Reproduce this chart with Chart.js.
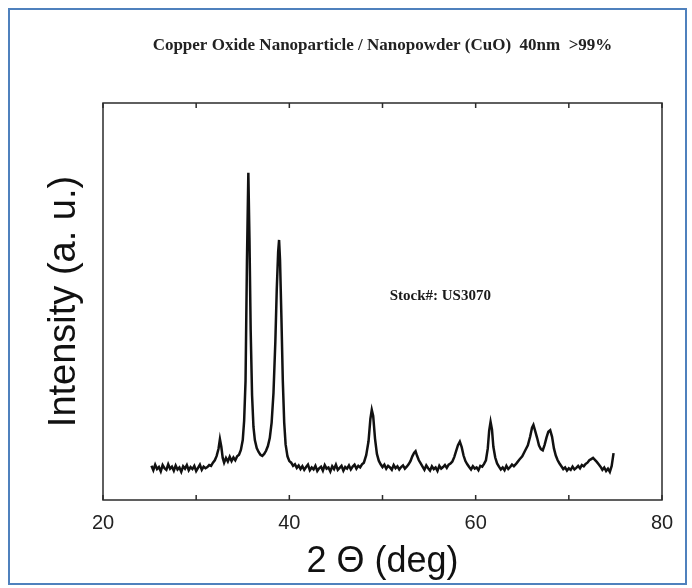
<!DOCTYPE html>
<html>
<head>
<meta charset="utf-8">
<title>CuO XRD</title>
<script src="https://cdn.jsdelivr.net/npm/chart.js@4.4.1/dist/chart.umd.min.js"></script>
<style>
  html, body { margin: 0; padding: 0; background: #fff; }
  canvas { display: block; }
</style>
</head>
<body>
<canvas id="xrd" width="692" height="588"></canvas>
<script>
// 2θ (deg) and intensity (a. u.), one row per stretch
const twoTheta = [
  25.2, 25.4, 25.6, 25.8, 26.0, 26.2, 26.4, 26.6, 26.8, 27.0,
  27.2, 27.4, 27.6, 27.8, 28.0, 28.2, 28.4, 28.6, 28.8, 29.0,
  29.2, 29.4, 29.6, 29.8, 30.0, 30.2, 30.4, 30.6, 30.8, 31.0,
  31.2, 31.4, 31.6, 31.8, 32.0, 32.2, 32.4, 32.55, 32.7, 32.85,
  33.0, 33.2, 33.4, 33.6, 33.8, 34.0, 34.2, 34.4, 34.6,
  34.8, 35.0, 35.15, 35.3, 35.45, 35.6, 35.72, 35.85, 36.0, 36.15,
  36.3, 36.5, 36.7, 36.9, 37.1, 37.3, 37.5, 37.7, 37.9, 38.1,
  38.3, 38.5, 38.65, 38.8, 38.9, 39.0, 39.15, 39.3, 39.45, 39.6,
  39.8, 40.0,
  40.2, 40.4, 40.6, 40.8, 41.0, 41.2, 41.4, 41.6, 41.8, 42.0,
  42.2, 42.4, 42.6, 42.8, 43.0, 43.2, 43.4, 43.6, 43.8, 44.0,
  44.2, 44.4, 44.6, 44.8, 45.0, 45.2, 45.4, 45.6, 45.8, 46.0,
  46.2, 46.4, 46.6, 46.8, 47.0, 47.2, 47.4, 47.6, 47.8,
  48.0, 48.25, 48.5, 48.7, 48.85, 49.0, 49.2, 49.4, 49.6,
  49.8, 50.0, 50.2, 50.4, 50.6, 50.8, 51.0, 51.2, 51.4, 51.6, 51.8, 52.0, 52.2, 52.4, 52.6, 52.8,
  53.0, 53.2, 53.4, 53.55, 53.7, 53.9, 54.1,
  54.3, 54.5, 54.7, 54.9, 55.1, 55.3, 55.5, 55.7, 55.9, 56.1, 56.3, 56.5, 56.7, 56.9, 57.1, 57.3,
  57.5, 57.7, 57.9, 58.1, 58.3, 58.5, 58.7, 58.9, 59.1,
  59.3, 59.5, 59.7, 59.9, 60.1, 60.3, 60.5, 60.7, 60.9,
  61.1, 61.3, 61.45, 61.6, 61.75, 61.9, 62.1, 62.3,
  62.5, 62.7, 62.9, 63.1, 63.3, 63.5, 63.7, 63.9, 64.1,
  64.4, 64.7, 65.0, 65.3, 65.6, 65.85, 66.05, 66.2, 66.4, 66.6,
  66.8, 67.0, 67.2, 67.4, 67.6, 67.8, 68.0, 68.2, 68.4, 68.6, 68.8, 69.0,
  69.2, 69.4, 69.6, 69.8, 70.0, 70.2, 70.4, 70.6, 70.8, 71.0, 71.2, 71.4, 71.6, 71.8,
  72.0, 72.2, 72.4, 72.6, 72.8, 73.0, 73.2,
  73.4, 73.6, 73.8, 74.0, 74.2, 74.4, 74.6, 74.8
];
const intensity = [
  8.6, 7.5, 8.9, 7.8, 8.3, 7.2, 8.8, 8.0, 7.6, 9.0,
  7.9, 8.4, 7.4, 8.7, 7.7, 8.2, 7.1, 8.5, 7.9, 8.8,
  7.5, 8.3, 7.8, 8.6, 7.3, 8.1, 8.9, 7.6, 8.4, 8.0,
  8.3, 8.8, 8.6, 9.4, 10.0, 11.1, 12.9, 15.3, 13.4, 10.6,
  9.4, 10.6, 9.7, 10.9, 9.8, 10.7, 10.0, 11.0, 11.4,
  12.6, 15.1, 20.0, 30.0, 60.0, 82.4, 66.0, 42.8, 26.4, 18.4,
  15.1, 13.1, 12.1, 11.4, 11.1, 11.6, 12.4, 13.6, 15.6, 19.5,
  27.0, 40.0, 53.0, 62.5, 65.5, 60.5, 46.0, 30.0, 19.5, 14.0,
  11.0, 9.8,
  9.4, 8.6, 9.0, 8.1, 8.7, 7.8, 8.5, 7.6, 8.3, 8.9,
  7.5, 8.2, 7.7, 8.6, 7.3, 8.0, 8.4, 7.4, 8.8, 7.9,
  8.2, 7.2, 8.5, 7.8, 8.9, 7.6, 8.1, 8.6, 7.4, 8.3,
  7.9, 8.7, 7.7, 8.4, 8.9, 7.9, 8.6, 8.2, 9.0,
  9.4, 11.3, 14.8, 20.4, 22.7, 21.2, 15.4, 11.6, 9.9,
  9.0, 8.3, 8.9, 7.9, 8.6, 8.2, 7.6, 8.8, 8.0, 8.5, 7.7, 8.3, 8.7, 7.9, 8.4, 9.0,
  9.8, 11.0, 11.9, 12.3, 11.2, 10.0, 9.2,
  8.4, 7.6, 8.7, 8.0, 7.4, 8.5, 7.8, 8.2, 7.3, 8.6, 7.9, 8.3, 8.8, 8.1, 8.9, 9.2,
  9.7, 10.8, 12.3, 13.8, 14.7, 13.3, 11.2, 9.8, 9.0,
  8.3, 7.7, 8.5, 7.9, 8.2, 7.5, 8.6, 8.4, 9.1,
  10.0, 13.0, 17.5, 19.7, 17.8, 13.4, 10.7, 9.2,
  8.4, 7.7, 8.2, 7.5, 8.6, 7.8, 8.3, 8.9, 8.5,
  9.3, 10.2, 11.0, 12.4, 13.8, 16.0, 18.2, 18.9, 17.3, 15.6,
  13.7, 12.8, 12.5, 13.9, 15.7, 17.2, 17.6, 15.9, 13.0, 11.2, 10.0, 9.2,
  8.5, 7.8, 8.2, 7.4, 8.0, 7.6, 8.4, 7.7, 8.1, 8.6, 8.0, 8.8, 8.5, 9.1,
  9.4, 10.0, 10.3, 10.6, 10.1, 9.6, 9.0,
  8.4, 7.6, 8.2, 7.3, 7.9, 7.1, 8.6, 11.8
];

const xTicks = [20, 30, 40, 50, 60, 70, 80];
const xLabels = [20, 40, 60, 80];
const titleText = "Copper Oxide Nanoparticle / Nanopowder (CuO)  40nm  >99%";
const stockText = "Stock#: US3070";
const stockAt = { x: 56.2, y: 51.4 }; // where the note sits, in data units

const points = twoTheta.map((t, i) => ({ x: t, y: intensity[i] }));

// white page, blue outer border, plot frame with inward ticks, stock note
const decor = {
  id: "decor",
  beforeDraw(chart) {
    const ctx = chart.ctx;
    ctx.save();
    ctx.fillStyle = "#fff";
    ctx.fillRect(0, 0, chart.width, chart.height);
    ctx.restore();
  },
  afterDraw(chart) {
    const ctx = chart.ctx;
    const area = chart.chartArea;
    const xs = chart.scales.x;
    const ys = chart.scales.y;
    ctx.save();

    ctx.strokeStyle = "#2b2b2b";
    ctx.lineWidth = 1.5;
    ctx.strokeRect(area.left, area.top, area.right - area.left, area.bottom - area.top);

    xTicks.forEach((v) => {
      const px = xs.getPixelForValue(v);
      ctx.beginPath();
      ctx.moveTo(px, area.bottom);
      ctx.lineTo(px, area.bottom - 5);
      ctx.moveTo(px, area.top);
      ctx.lineTo(px, area.top + 5);
      ctx.stroke();
    });

    ctx.fillStyle = "#1a1a1a";
    ctx.font = "bold 15px 'Liberation Serif', 'Times New Roman', serif";
    ctx.textAlign = "center";
    ctx.textBaseline = "middle";
    ctx.fillText(stockText, xs.getPixelForValue(stockAt.x), ys.getPixelForValue(stockAt.y));

    ctx.strokeStyle = "#4f81bd";
    ctx.lineWidth = 2;
    ctx.strokeRect(9, 9, 677, 575);
    ctx.restore();
  },
};

new Chart(document.getElementById("xrd"), {
  type: "line",
  data: {
    datasets: [
      {
        data: points,
        borderColor: "#111",
        borderWidth: 2.5,
        pointRadius: 0,
        tension: 0,
        fill: false,
      },
    ],
  },
  options: {
    responsive: false,
    animation: false,
    events: [],
    layout: { padding: { left: 38, right: 30, top: 0, bottom: 0 } },
    plugins: {
      legend: { display: false },
      tooltip: { enabled: false },
      title: {
        display: true,
        text: titleText,
        fullSize: false,
        color: "#222",
        font: { family: "'Liberation Serif', 'Times New Roman', serif", size: 17, weight: "bold" },
        padding: { top: 35, bottom: 47.6 },
      },
    },
    scales: {
      x: {
        type: "linear",
        min: 20,
        max: 80,
        afterBuildTicks: (scale) => {
          scale.ticks = xTicks.map((v) => ({ value: v }));
        },
        afterFit: (scale) => {
          scale.height = 88;
        },
        ticks: {
          autoSkip: false,
          maxRotation: 0,
          padding: 11,
          color: "#222",
          font: { family: "'Liberation Sans', Arial, sans-serif", size: 20 },
          callback: (v) => (xLabels.includes(v) ? String(v) : ""),
        },
        grid: { display: false, drawTicks: false },
        border: { display: false },
        title: {
          display: true,
          text: "2 Θ (deg)",
          color: "#111",
          font: { family: "'Liberation Sans', Arial, sans-serif", size: 36 },
          padding: { top: 0, bottom: 4 },
        },
      },
      y: {
        min: 0,
        max: 100,
        afterFit: (scale) => {
          scale.width = 65;
        },
        ticks: { display: false },
        grid: { display: false, drawTicks: false },
        border: { display: false },
        title: {
          display: true,
          text: "Intensity (a. u.)",
          color: "#111",
          font: { family: "'Liberation Sans', Arial, sans-serif", size: 38 },
          padding: { top: 4, bottom: 4 },
        },
      },
    },
  },
  plugins: [decor],
});
</script>
</body>
</html>
